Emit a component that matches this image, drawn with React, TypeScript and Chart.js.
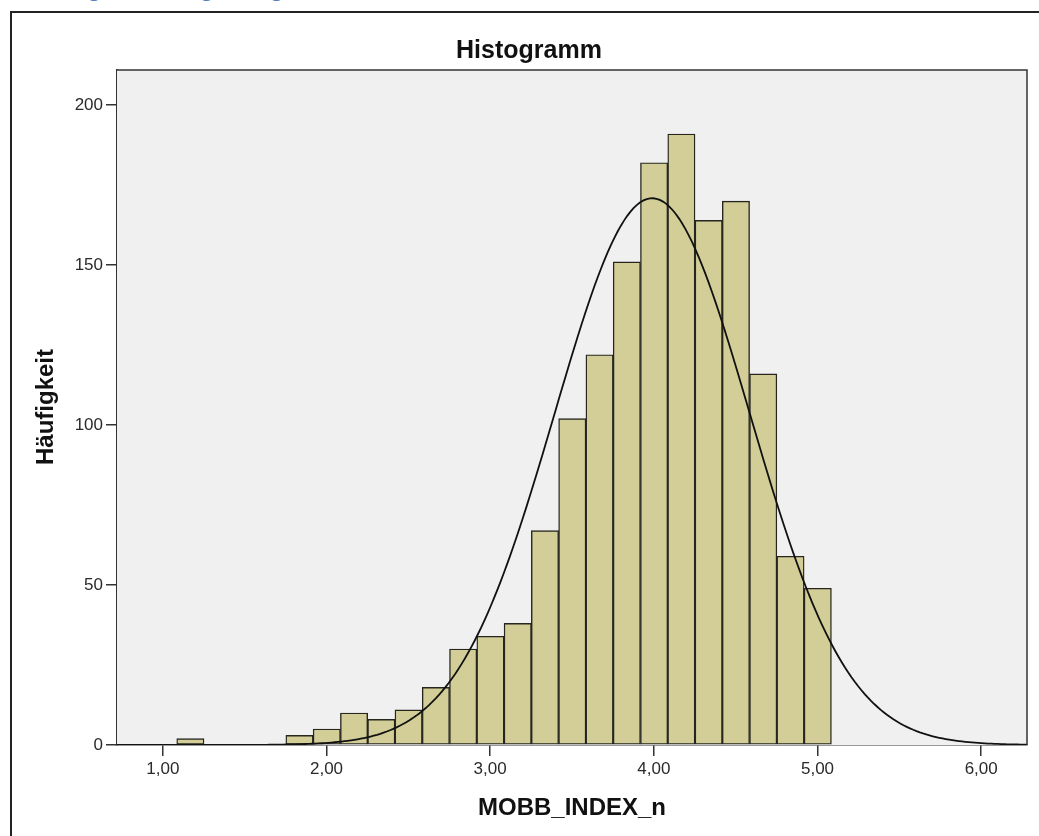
import React, { useEffect, useRef } from "react";
import { Chart, registerables } from "chart.js";

Chart.register(...registerables);

// ---- data ----
const binStart = 1.085; // left edge of the first bin
const binWidth = 1 / 6;
const binCounts = [
  2, 0, 0, 0, 3, 5, 10, 8, 11, 18, 30, 34, 38, 67, 102, 122, 151, 182, 191, 164,
  170, 116, 59, 49,
];
const xTickValues = [1, 2, 3, 4, 5, 6];
const xTickLabels = ["1,00", "2,00", "3,00", "4,00", "5,00", "6,00"];
const yTickValues = [0, 50, 100, 150, 200];
const yTickLabels = ["0", "50", "100", "150", "200"];
const xMin = 0.72;
const xMax = 6.28;
const yMax = 211;
// normal curve fit (SPSS overlay)
const curveMean = 3.99;
const curveSd = 0.596;

const chartTitle = "Histogramm";
const xTitle = "MOBB_INDEX_n";
const yTitle = "Häufigkeit";
const captionText = "Abbildung 3: \u201EMobbing\u201C Histogramm";

const FONT = "'Liberation Sans', Arial, sans-serif";

export default function App() {
  const canvasRef = useRef<HTMLCanvasElement | null>(null);

  useEffect(() => {
    const canvas = canvasRef.current;
    if (!canvas) return;

    const barData = binCounts.map((c, i) => ({
      x: binStart + (i + 0.5) * binWidth,
      y: c,
    }));
    const nTotal = binCounts.reduce((a, b) => a + b, 0);
    const curveData: { x: number; y: number }[] = [];
    const steps = 280;
    for (let i = 0; i <= steps; i++) {
      const x = xMin + ((xMax - xMin) * i) / steps;
      const z = (x - curveMean) / curveSd;
      const y =
        (nTotal * binWidth * Math.exp(-0.5 * z * z)) /
        (curveSd * Math.sqrt(2 * Math.PI));
      curveData.push({ x, y });
    }

    const bgPlugin = {
      id: "plotBg",
      beforeDatasetsDraw(chart: any) {
        const { ctx, chartArea } = chart;
        ctx.save();
        ctx.fillStyle = "#f0f0f0";
        ctx.fillRect(
          chartArea.left,
          chartArea.top,
          chartArea.right - chartArea.left,
          chartArea.bottom - chartArea.top
        );
        ctx.restore();
      },
      afterDatasetsDraw(chart: any) {
        const { ctx, chartArea } = chart;
        ctx.save();
        ctx.strokeStyle = "#333";
        ctx.lineWidth = 1.5;
        ctx.beginPath();
        ctx.moveTo(chartArea.left, chartArea.top);
        ctx.lineTo(chartArea.right, chartArea.top);
        ctx.lineTo(chartArea.right, chartArea.bottom);
        ctx.stroke();
        ctx.restore();
      },
      afterDraw(chart: any) {
        const { ctx, chartArea } = chart;
        ctx.save();
        ctx.fillStyle = "#111";
        ctx.textAlign = "center";
        ctx.textBaseline = "alphabetic";
        ctx.font = `bold 25px ${FONT}`;
        ctx.fillText(chartTitle, 529, 58);
        ctx.font = `bold 24px ${FONT}`;
        ctx.fillText(xTitle, (chartArea.left + chartArea.right) / 2, 815);
        ctx.translate(53, 407);
        ctx.rotate(-Math.PI / 2);
        ctx.fillText(yTitle, 0, 0);
        ctx.restore();
      },
    };

    const chart = new Chart(canvas, {
      type: "bar",
      data: {
        datasets: [
          {
            type: "line",
            data: curveData,
            borderColor: "#111",
            borderWidth: 1.8,
            pointRadius: 0,
            fill: false,
            tension: 0,
            order: 0,
          } as any,
          {
            type: "bar",
            data: barData,
            backgroundColor: "#d3ce97",
            borderColor: "#26261f",
            borderWidth: 1.4,
            barPercentage: 1,
            categoryPercentage: 1,
            borderSkipped: false,
            order: 1,
          } as any,
        ],
      },
      options: {
        animation: false,
        responsive: false,
        maintainAspectRatio: false,
        layout: { padding: { left: 0, top: 70, right: 12, bottom: 0 } },
        plugins: {
          legend: { display: false },
          tooltip: { enabled: false },
          title: { display: false },
        },
        scales: {
          x: {
            type: "linear",
            min: xMin,
            max: xMax,
            offset: false,
            afterBuildTicks: (s: any) => {
              s.ticks = xTickValues.map((v) => ({ value: v }));
            },
            afterFit: (s: any) => {
              s.height = 91;
            },
            ticks: {
              callback: (v: any) => {
                const i = xTickValues.indexOf(Number(v));
                return i >= 0 ? xTickLabels[i] : "";
              },
              font: { family: FONT, size: 17 },
              color: "#2a2a2a",
              padding: 3,
              maxRotation: 0,
              autoSkip: false,
            },
            grid: {
              drawOnChartArea: false,
              drawTicks: true,
              tickLength: 11,
              color: "#333",
              lineWidth: 1.5,
              offset: false,
            },
            border: { color: "#333", width: 1.5 },
          },
          y: {
            type: "linear",
            min: 0,
            max: yMax,
            afterBuildTicks: (s: any) => {
              s.ticks = yTickValues.map((v) => ({ value: v }));
            },
            afterFit: (s: any) => {
              s.width = 117;
            },
            ticks: {
              callback: (v: any) => {
                const i = yTickValues.indexOf(Number(v));
                return i >= 0 ? yTickLabels[i] : "";
              },
              font: { family: FONT, size: 17 },
              color: "#2a2a2a",
              padding: 3,
              autoSkip: false,
            },
            grid: {
              drawOnChartArea: false,
              drawTicks: true,
              tickLength: 11,
              color: "#333",
              lineWidth: 1.5,
            },
            border: { color: "#333", width: 1.5 },
          },
        },
      } as any,
      plugins: [bgPlugin],
    });

    return () => {
      chart.destroy();
    };
  }, []);

  return (
    <div
      style={{
        position: "fixed",
        left: 0,
        top: 0,
        width: 1039,
        height: 836,
        overflow: "hidden",
        background: "#fff",
      }}
    >
      <div
        style={{
          position: "absolute",
          left: 8,
          top: -19,
          fontFamily: "'Open Sans', sans-serif",
          fontWeight: 700,
          fontSize: 18,
          lineHeight: "18px",
          color: "#4f81bd",
          whiteSpace: "nowrap",
        }}
      >
        {captionText}
      </div>
      <div
        style={{
          position: "absolute",
          left: 10,
          top: 11,
          width: 1100,
          height: 900,
          border: "2px solid #222",
          boxSizing: "border-box",
        }}
      />
      <canvas
        ref={canvasRef}
        width={1039}
        height={836}
        style={{ position: "absolute", left: 0, top: 0, width: 1039, height: 836 }}
      />
    </div>
  );
}
